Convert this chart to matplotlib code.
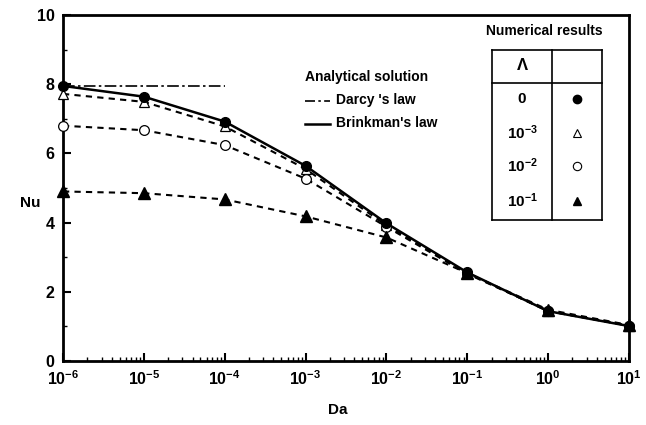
import matplotlib
matplotlib.use("Agg")
import matplotlib.pyplot as plt
from matplotlib.lines import Line2D
import numpy as np

plt.rcParams['font.family'] = ['Liberation Sans', 'DejaVu Sans']
plt.rcParams['font.weight'] = 'bold'
plt.rcParams['mathtext.fontset'] = 'custom'
plt.rcParams['mathtext.rm'] = 'Liberation Sans:bold'
plt.rcParams['mathtext.bf'] = 'Liberation Sans:bold'
plt.rcParams['mathtext.it'] = 'Liberation Sans:bold'

# Data
da = [1e-6, 1e-5, 1e-4, 1e-3, 1e-2, 1e-1, 1e0, 1e1]
brinkman = [7.95, 7.64, 6.92, 5.64, 3.98, 2.56, 1.44, 1.01]
darcy_x = [1e-6, 1e-4]
darcy_y = [7.94, 7.94]
nu_lam0 = [7.95, 7.64, 6.92, 5.64, 3.98, 2.56, 1.44, 1.01]
nu_lam1e3 = [7.72, 7.49, 6.78, 5.55, 3.92, 2.54, 1.44, 1.02]
nu_lam1e2 = [6.80, 6.67, 6.24, 5.27, 3.88, 2.52, 1.45, 1.02]
nu_lam1e1 = [4.90, 4.85, 4.67, 4.18, 3.57, 2.54, 1.48, 1.04]
table_labels = ['0', r'$10^{-3}$', r'$10^{-2}$', r'$10^{-1}$']

W, H = 646, 425
fig = plt.figure(figsize=(W / 100, H / 100), dpi=100)
ax = fig.add_axes([63 / W, 1 - 361 / H, (629 - 63) / W, (361 - 15) / H])

def px(x, y):
    return (x / W, 1 - y / H)

ax.plot(darcy_x, darcy_y, color='black', lw=1.2, linestyle=(0, (7, 2, 1.5, 2)))
ax.plot(da, brinkman, color='black', lw=1.8)
for ys in (nu_lam1e3, nu_lam1e2, nu_lam1e1):
    ax.plot(da, ys, color='black', lw=1.5, linestyle=(0, (3, 2.5)))
ax.plot(da, nu_lam0, 'o', color='black', ms=7, zorder=5, clip_on=False)
ax.plot(da, nu_lam1e3, '^', mfc='white', mec='black', mew=0.9, ms=7, zorder=4, clip_on=False)
ax.plot(da, nu_lam1e2, 'o', mfc='white', mec='black', mew=0.9, ms=7, zorder=4, clip_on=False)
ax.plot(da, nu_lam1e1, '^', color='black', ms=8, zorder=4, clip_on=False)

ax.set_xscale('log')
ax.set_xlim(1e-6, 1e1)
ax.set_ylim(0, 10)
ax.set_yticks([0, 2, 4, 6, 8, 10])
ax.set_yticks([1, 3, 5, 7, 9], minor=True)
ax.set_xticks(da)
ax.set_xticklabels([r'$10^{%d}$' % e for e in range(-6, 2)])
ax.set_yticklabels(['0', '2', '4', '6', '8', '10'])
ax.xaxis.set_minor_locator(matplotlib.ticker.LogLocator(base=10, subs=np.arange(2, 10), numticks=20))
ax.xaxis.set_minor_formatter(matplotlib.ticker.NullFormatter())
ax.tick_params(which='major', direction='in', length=6, width=1.5, labelsize=11.5, pad=6)
ax.tick_params(which='minor', direction='in', length=3, width=1.0)
for s in ax.spines.values():
    s.set_linewidth(2.0)
for lab in ax.get_yticklabels():
    lab.set_fontweight('bold')

fig.text(30 / W, 1 - 203 / H, 'Nu', fontsize=11, fontweight='bold', ha='center', va='center')
fig.text(338 / W, 1 - 410 / H, 'Da', fontsize=11, fontweight='bold', ha='center', va='center')

# Analytical legend
fig.text(*px(305, 77), 'Analytical solution', fontsize=10, fontweight='bold', va='center', ha='left')
fig.add_artist(Line2D([305 / W, 330 / W], [1 - 101 / H] * 2, color='black', lw=1.2,
                      linestyle=(0, (6, 2, 1.5, 2))))
fig.text(*px(336, 100), "Darcy 's law", fontsize=10, fontweight='bold', va='center', ha='left')
fig.add_artist(Line2D([305 / W, 330 / W], [1 - 124 / H] * 2, color='black', lw=1.8))
fig.text(*px(336, 123), "Brinkman's law", fontsize=10, fontweight='bold', va='center', ha='left')

# Numerical results table
fig.text(*px(544, 31), 'Numerical results', fontsize=10, fontweight='bold', va='center', ha='center')
x0, x1, xm = 492, 602, 552
y0, yh, y1 = 50, 83, 220
lw = 1.2
def hline(y, xa, xb):
    fig.add_artist(Line2D([xa / W, xb / W], [1 - y / H] * 2, color='black', lw=lw))
def vline(x, ya, yb):
    fig.add_artist(Line2D([x / W] * 2, [1 - ya / H, 1 - yb / H], color='black', lw=lw))
hline(y0, x0, x1); hline(yh, x0, x1); hline(y1, x0, x1)
vline(x0, y0, y1); vline(x1, y0, y1); vline(xm, y0, y1)
fig.text(*px(522, 66), 'Λ', fontsize=12, fontweight='bold', va='center', ha='center')
rows_y = [99, 133, 166, 201]
mk = [dict(marker='o', color='black', ms=6),
      dict(marker='^', mfc='white', mec='black', mew=0.8, ms=6),
      dict(marker='o', mfc='white', mec='black', mew=0.8, ms=6),
      dict(marker='^', color='black', ms=6)]
for lab, yy, m in zip(table_labels, rows_y, mk):
    fig.text(*px(522, yy), lab, fontsize=11, fontweight='bold', va='center', ha='center')
    fig.add_artist(Line2D([577 / W], [1 - yy / H], linestyle='none', **m))

fig.savefig('out.png', dpi=100)
